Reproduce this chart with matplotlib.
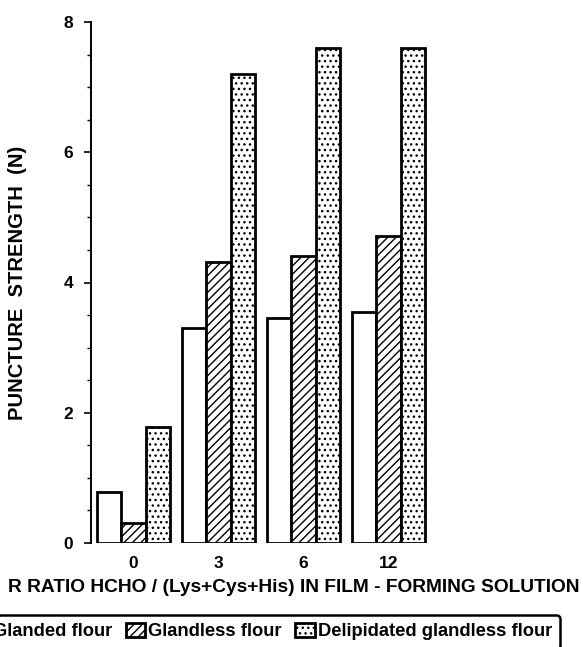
import matplotlib
matplotlib.use("Agg")
import matplotlib.pyplot as plt
import numpy as np

# data
ratios = ["0", "3", "6", "12"]
glanded = [0.78, 3.30, 3.45, 3.54]
glandless = [0.31, 4.31, 4.40, 4.71]
delipidated = [1.78, 7.20, 7.60, 7.60]
series_names = ["Glanded flour", "Glandless flour", "Delipidated glandless flour"]

plt.rcParams["font.family"] = ["Liberation Sans", "DejaVu Sans"]
plt.rcParams["font.weight"] = "bold"
plt.rcParams["axes.labelweight"] = "bold"
plt.rcParams["hatch.linewidth"] = 1.0

fig = plt.figure(figsize=(5.83, 6.47), dpi=100)
ax = fig.add_axes([91 / 583, 1 - 543 / 647, 340 / 583, 521 / 647])

x = np.arange(len(ratios))
w = 0.286
style = dict(edgecolor="black", linewidth=2.0, facecolor="white")
b1 = ax.bar(x - w, glanded, w, **style)
b2 = ax.bar(x, glandless, w, hatch="////", **style)
b3 = ax.bar(x + w, delipidated, w, hatch="...", **style)

ax.set_xlim(-0.5, 3.5)
ax.set_ylim(0, 8)
ax.set_yticks([0, 2, 4, 6, 8])
ax.set_yticks(np.arange(0, 8.01, 0.5), minor=True)
ax.set_xticks(x)
ax.set_xticklabels(ratios)
ax.tick_params(axis="y", which="major", length=5, width=1.2, pad=8, labelsize=12.5)
ax.tick_params(axis="y", which="minor", length=3, width=1.0)
ax.tick_params(axis="x", length=0, pad=9, labelsize=12.5)

for s in ["top", "right", "bottom"]:
    ax.spines[s].set_visible(False)
ax.spines["left"].set_linewidth(1.4)

ax.set_ylabel("PUNCTURE  STRENGTH  (N)", fontsize=14.5)
ax.yaxis.set_label_coords((27 - 91) / 340, 0.5)
ax.set_xlabel("R RATIO HCHO / (Lys+Cys+His) IN FILM - FORMING SOLUTION",
              fontsize=13.8, ha="right", va="center")
ax.xaxis.set_label_coords((580 - 91) / 340, (543 - 588) / 521)

leg = fig.legend([b1[0], b2[0], b3[0]], series_names, loc="upper right",
                 bbox_to_anchor=(560 / 583, 1 - 615 / 647), ncol=3,
                 fontsize=13.2, handlelength=1.07, handleheight=0.75,
                 handletextpad=0.15, columnspacing=0.75, borderpad=0.45,
                 borderaxespad=0, fancybox=True, framealpha=1)
leg.get_frame().set_edgecolor("black")
leg.get_frame().set_linewidth(1.8)

fig.savefig("out.png", dpi=100)
